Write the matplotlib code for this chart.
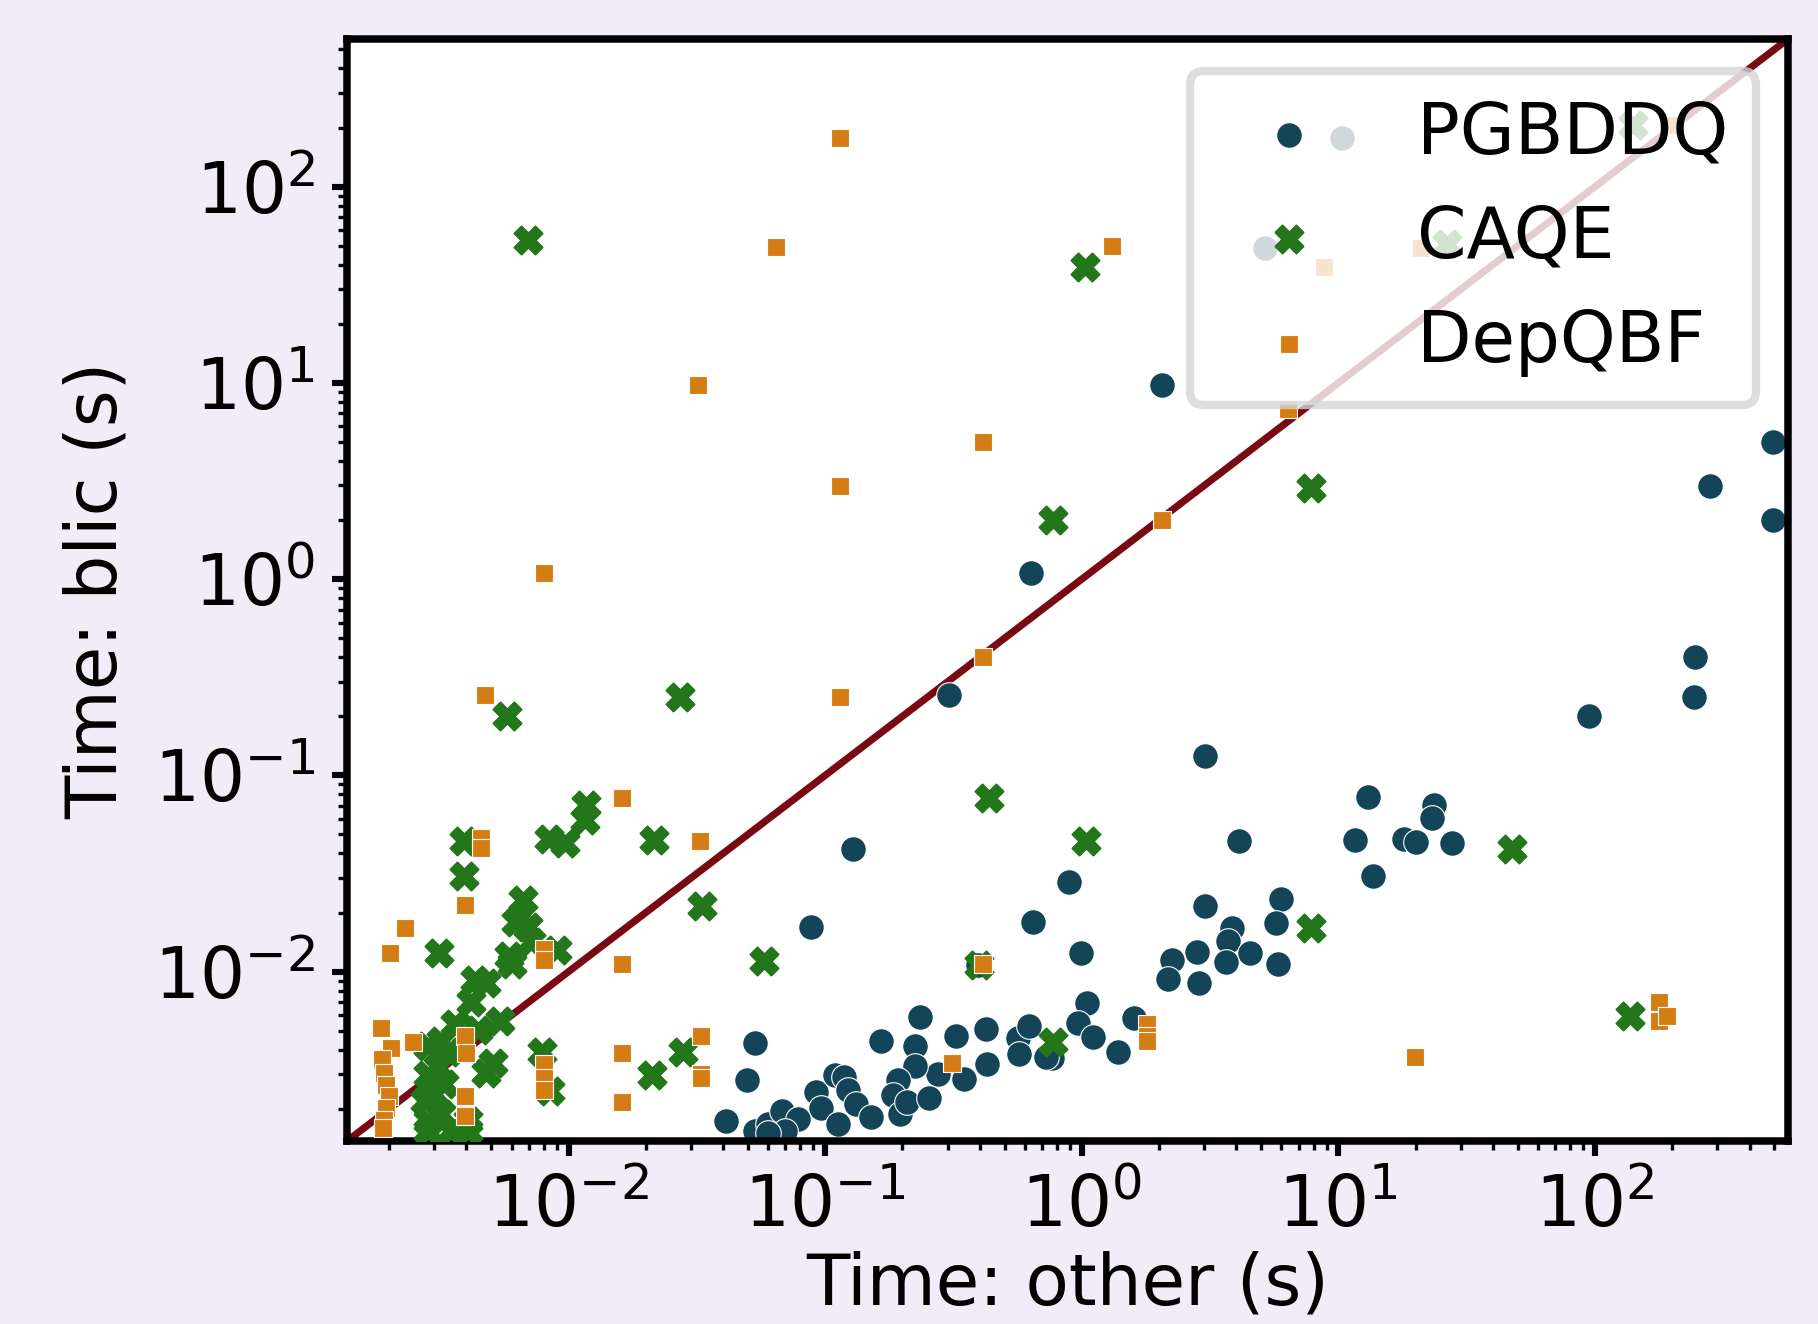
import numpy as np
import matplotlib
matplotlib.use("Agg")
import matplotlib.pyplot as plt

# solver times (seconds): x = other solver, y = blic
pgbddq_x = [2.05, 0.632, 0.305, 95.1, 245, 243, 492, 492, 281, 3.01,
            0.128, 0.0877, 13.0, 23.6, 23.1, 4.11, 11.6, 18.0, 20.0, 27.6,
            13.7, 0.891, 3.01, 5.98, 5.73, 3.85, 3.70, 4.51, 3.66, 2.80,
            2.25, 2.16, 2.86, 5.79, 0.991, 0.645, 0.395, 1.05, 0.969, 1.11,
            1.60, 1.38, 0.762, 0.724, 0.564, 0.570, 0.625, 0.423, 0.427, 0.322,
            0.275, 0.346, 0.235, 0.223, 0.223, 0.193, 0.183, 0.195, 0.208, 0.253,
            0.165, 0.0920, 0.0960, 0.1124, 0.109, 0.1186, 0.1225, 0.1316, 0.151, 0.0532,
            0.0495, 0.0411, 0.0532, 0.0597, 0.0676, 0.0782, 0.0697, 0.0597, 10.3, 5.17]
pgbddq_y = [9.72, 1.07, 0.257, 0.201, 0.402, 0.250, 4.99, 2.00, 2.97, 0.125,
            0.042, 0.0169, 0.0775, 0.0705, 0.0606, 0.0462, 0.0469, 0.0475, 0.0456, 0.0450,
            0.0308, 0.0287, 0.0216, 0.0235, 0.0176, 0.0167, 0.0143, 0.0124, 0.0112, 0.0126,
            0.0114, 0.0092, 0.0087, 0.0109, 0.0124, 0.0178, 0.0108, 0.00688, 0.00546, 0.00464,
            0.00577, 0.00388, 0.00361, 0.00368, 0.00457, 0.00382, 0.00530, 0.00510, 0.00339, 0.00470,
            0.00300, 0.00284, 0.00585, 0.00416, 0.00330, 0.00281, 0.00235, 0.00189, 0.00216, 0.00228,
            0.00445, 0.00243, 0.00202, 0.00168, 0.00298, 0.00290, 0.00248, 0.00211, 0.00181, 0.00433,
            0.00281, 0.00174, 0.00154, 0.00168, 0.00195, 0.00178, 0.00154, 0.00150, 176, 48.4]

caqe_x = [0.00693, 1.03, 7.84, 0.769, 0.0271, 0.00574, 0.434, 0.01166, 0.01154, 0.00391,
          0.00836, 0.00968, 0.0215, 0.00391, 1.04, 0.033, 47.4, 7.84, 0.0577, 0.396,
          0.00314, 137, 0.769, 0.0279, 0.0211, 0.00786, 0.00845, 0.00665, 0.00625, 0.00693,
          0.00716, 0.00587, 0.00600, 0.00899, 0.00430, 0.00477, 0.00417, 0.00540, 0.00443, 0.00360,
          0.00507, 0.00477, 0.00284, 0.00318, 0.00284, 0.00311, 0.00338, 0.00275, 0.00299, 0.00327,
          0.00284, 0.00318, 0.00284, 0.00407, 0.00407, 0.00348, 26.5, 140]
caqe_y = [53.3, 38.9, 2.93, 2.00, 0.250, 0.201, 0.0766, 0.0705, 0.0590, 0.0462,
          0.0475, 0.0450, 0.0469, 0.0308, 0.0462, 0.0216, 0.0420, 0.0167, 0.0113, 0.0108,
          0.0124, 0.00592, 0.00439, 0.00388, 0.00296, 0.00388, 0.00245, 0.0231, 0.0178, 0.0169,
          0.0142, 0.0120, 0.0109, 0.0129, 0.00903, 0.00879, 0.00697, 0.00561, 0.00503, 0.00539,
          0.00343, 0.00304, 0.00416, 0.00445, 0.00296, 0.00325, 0.00388, 0.00219, 0.00238, 0.00269,
          0.00174, 0.00189, 0.00154, 0.00174, 0.00154, 0.00154, 51.2, 205]

depqbf_x = [0.1137, 0.0642, 1.31, 0.0320, 0.412, 0.1137, 0.0080, 2.05, 0.412, 0.00472,
            0.1137, 8.8, 21.0, 201, 6.37, 0.0161, 0.00457, 0.00457, 0.0324, 0.00395,
            0.00231, 0.00201, 0.0080, 0.0080, 0.0161, 0.412, 0.00185, 0.00247, 0.00203, 0.00395,
            0.00399, 0.0327, 0.0161, 0.0327, 0.0327, 0.0080, 0.0080, 0.0080, 0.0161, 0.00187,
            0.00191, 0.00195, 0.00199, 0.00195, 0.00191, 0.00189, 0.00395, 0.00395, 1.79, 1.79,
            1.79, 0.312, 19.8, 177, 177, 191]
depqbf_y = [176, 49.1, 49.8, 9.72, 4.99, 2.97, 1.07, 2.00, 0.402, 0.257,
            0.250, 38.9, 48.4, 205, 7.40, 0.0766, 0.0481, 0.0426, 0.0462, 0.0219,
            0.0167, 0.0124, 0.0130, 0.0114, 0.0109, 0.0109, 0.00517, 0.00439, 0.00410, 0.00470,
            0.00383, 0.00470, 0.00383, 0.00300, 0.00288, 0.00339, 0.00288, 0.00248, 0.00216, 0.00358,
            0.00304, 0.00265, 0.00232, 0.00202, 0.00176, 0.00160, 0.00232, 0.00184, 0.00539, 0.00470,
            0.00445, 0.00343, 0.00368, 0.00697, 0.00561, 0.00592]

lims = [0.00137, 565]

plt.rcParams['font.family'] = ['DejaVu Sans']
fig = plt.figure(figsize=(9.09, 6.62), dpi=200, facecolor='#f1ecf7')
ax = fig.add_axes([0.1909, 0.1382, 0.7926, 0.8323])
ax.set_facecolor('white')

# diagonal y = x
ax.plot(lims, lims, color='#7a0a12', lw=2.6, zorder=1)

ax.scatter(pgbddq_x, pgbddq_y, s=85, marker='o', color='#134457',
           edgecolors='white', linewidths=0.4, label='PGBDDQ', zorder=2)
ax.scatter(caqe_x, caqe_y, s=100, marker='X', color='#23761a',
           edgecolors='#23761a', linewidths=0.8, label='CAQE', zorder=3)
ax.scatter(depqbf_x, depqbf_y, s=42, marker='s', color='#d57d15',
           edgecolors='white', linewidths=0.4, label='DepQBF', zorder=4)

ax.set_xscale('log')
ax.set_yscale('log')
ax.set_xlim(lims)
ax.set_ylim(lims)

for sp in ax.spines.values():
    sp.set_linewidth(2.7)
    sp.set_color('black')
ax.tick_params(which='major', length=5.5, width=2.2, labelsize=25.5, pad=6)
ax.tick_params(which='minor', length=3.2, width=1.2)

ax.set_xlabel('Time: other (s)', fontsize=25.5, labelpad=3)
ax.set_ylabel('Time: blic (s)', fontsize=25.5, labelpad=8)

leg = ax.legend(loc='upper right', fontsize=25.5, framealpha=0.8,
                borderaxespad=0.45, labelspacing=0.5)
leg.get_frame().set_edgecolor('#d5d5d5')
leg.get_frame().set_linewidth(3)

fig.savefig('out.png', dpi=200, facecolor=fig.get_facecolor())
